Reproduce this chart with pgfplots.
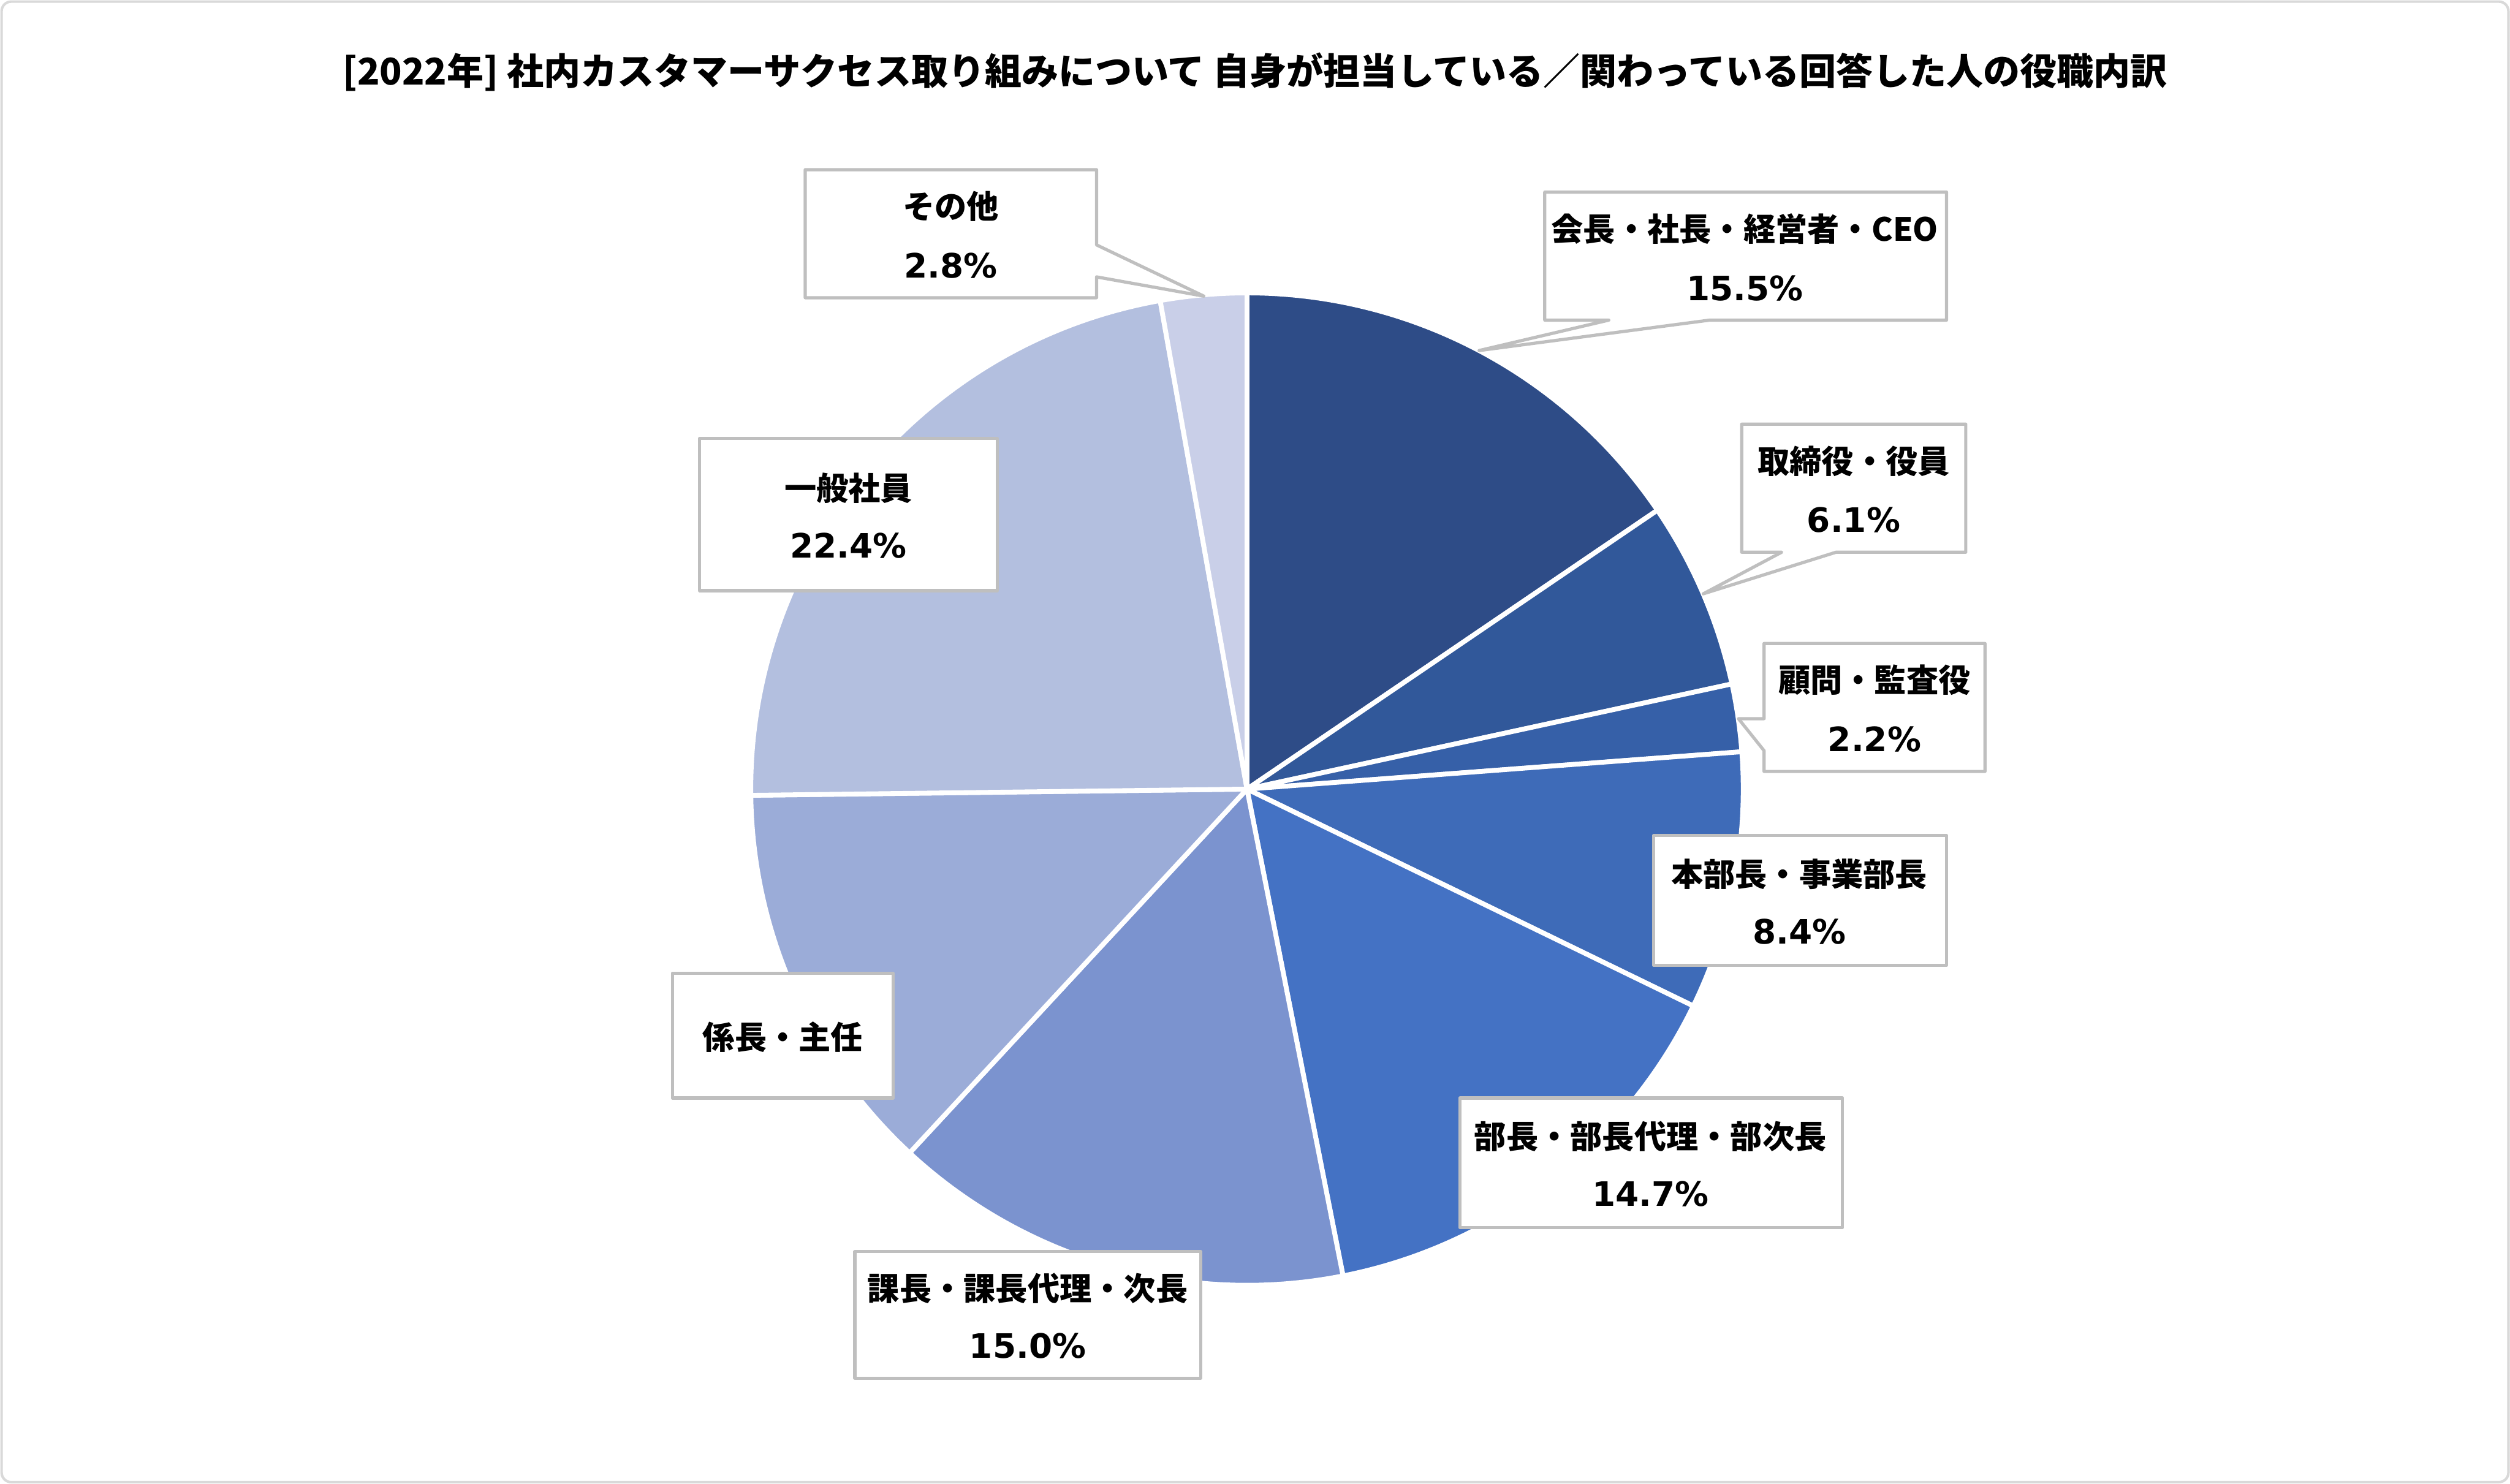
\documentclass[border=0pt]{standalone}
\usepackage{pgfplots}
\pgfplotsset{compat=1.18}
\usepackage{fontspec}
\setmainfont{DejaVu Sans}
\newfontfamily\jp{Noto Sans CJK JP}

\definecolor{c1}{HTML}{2E4C87}
\definecolor{c2}{HTML}{31589A}
\definecolor{c3}{HTML}{3660A8}
\definecolor{c4}{HTML}{3E6BB8}
\definecolor{c5}{HTML}{4472C4}
\definecolor{c6}{HTML}{7B93CF}
\definecolor{c7}{HTML}{9BACD8}
\definecolor{c8}{HTML}{B3BFDF}
\definecolor{c9}{HTML}{C9CFE8}
\definecolor{boxgray}{HTML}{BFBFBF}
\definecolor{framegray}{HTML}{D9D9D9}

\tikzset{
  callout/.style={draw=boxgray, fill=white, line width=1pt, line join=round},
  jl/.style={font=\jp\bfseries\fontsize{10}{12}\selectfont},
  pl/.style={font=\bfseries\fontsize{10.5}{12}\selectfont},
}

% shares in percent, clockwise from 12 o'clock
\def\piedata{15.5/c1,6.1/c2,2.2/c3,8.4/c4,14.7/c5,15.0/c6,12.9/c7,22.4/c8,2.8/c9}

\begin{document}
\begin{tikzpicture}
\begin{axis}[
    width=784pt, height=463.5pt, scale only axis,
    xmin=0, xmax=1568, ymin=0, ymax=927, y dir=reverse,
    hide axis, clip=false,
]
\addplot[draw=none] coordinates {(0,0) (1568,927)};

\draw[framegray, line width=0.8pt, rounded corners=3pt] (axis cs:1,1) rectangle (axis cs:1567,926);

\node[font=\jp\bfseries\fontsize{11.5}{13}\selectfont] at (axis cs:784,45)
  {[2022年] 社内カスタマーサクセス取り組みについて 自身が担当している／関わっている回答した人の役職内訳};

\gdef\s{90}
\foreach \v/\c in \piedata {
  \pgfmathsetmacro\e{\s-3.6*\v}
  \edef\temp{\noexpand\fill[fill=\c, draw=white, line width=1.5pt, line join=round]
    (axis cs:779,493) -- ++(\s:155pt) arc[start angle=\s, end angle=\e, radius=155pt] -- cycle;}
  \temp
  \global\let\s\e
}

% callouts
\draw[callout] (axis cs:965,120) -- (axis cs:1216,120) -- (axis cs:1216,200) -- (axis cs:1068,200)
  -- (axis cs:924,219) -- (axis cs:1005,200) -- (axis cs:965,200) -- cycle;
\draw[callout] (axis cs:1088,265) -- (axis cs:1228,265) -- (axis cs:1228,345) -- (axis cs:1147,345)
  -- (axis cs:1064,371) -- (axis cs:1113,345) -- (axis cs:1088,345) -- cycle;
\draw[callout] (axis cs:1102,402) -- (axis cs:1240,402) -- (axis cs:1240,482) -- (axis cs:1102,482)
  -- (axis cs:1102,469) -- (axis cs:1086,449) -- (axis cs:1102,449) -- cycle;
\draw[callout] (axis cs:503,106) -- (axis cs:685,106) -- (axis cs:685,153) -- (axis cs:752,185)
  -- (axis cs:685,173) -- (axis cs:685,186) -- (axis cs:503,186) -- cycle;
\draw[callout] (axis cs:1033,522) rectangle (axis cs:1216,603);
\draw[callout] (axis cs:912,686) rectangle (axis cs:1151,767);
\draw[callout] (axis cs:534,782) rectangle (axis cs:750,861);
\draw[callout] (axis cs:420,608) rectangle (axis cs:558,686);
\draw[callout] (axis cs:437,274) rectangle (axis cs:623,369);

\node[jl] at (axis cs:1090,143) {会長・社長・経営者・CEO};
\node[pl] at (axis cs:1090,180) {15.5\%};
\node[jl] at (axis cs:1158,288) {取締役・役員};
\node[pl] at (axis cs:1158,325) {6.1\%};
\node[jl] at (axis cs:1171,425) {顧問・監査役};
\node[pl] at (axis cs:1171,462) {2.2\%};
\node[jl] at (axis cs:1124,546) {本部長・事業部長};
\node[pl] at (axis cs:1124,582) {8.4\%};
\node[jl] at (axis cs:1031,710) {部長・部長代理・部次長};
\node[pl] at (axis cs:1031,746) {14.7\%};
\node[jl] at (axis cs:642,805) {課長・課長代理・次長};
\node[pl] at (axis cs:642,841) {15.0\%};
\node[jl] at (axis cs:489,648) {係長・主任};
\node[jl] at (axis cs:530,305) {一般社員};
\node[pl] at (axis cs:530,341) {22.4\%};
\node[jl] at (axis cs:594,129) {その他};
\node[pl] at (axis cs:594,166) {2.8\%};
\end{axis}
\end{tikzpicture}
\end{document}
